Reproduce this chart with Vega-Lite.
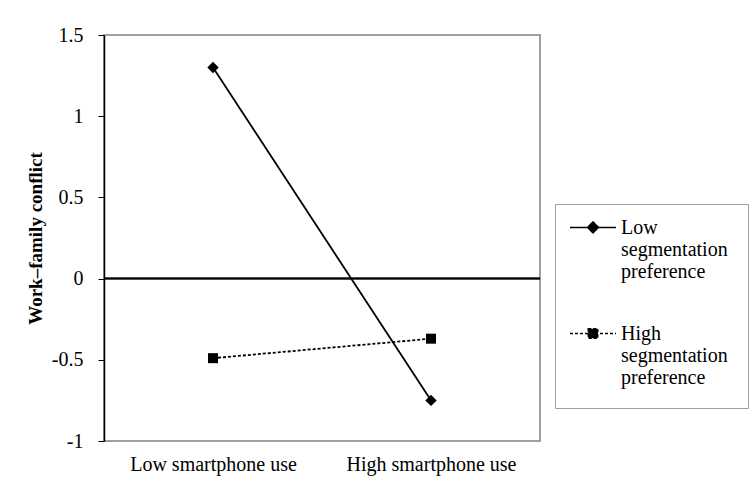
{
  "$schema": "https://vega.github.io/schema/vega-lite/v6.json",
  "width": 436,
  "height": 406,
  "autosize": {"type": "none"},
  "padding": {"left": 104, "top": 35, "right": 216, "bottom": 57},
  "background": "white",
  "config": {
    "font": "Liberation Serif",
    "view": {"stroke": "#a0a0a0", "strokeWidth": 2},
    "axis": {"labelFont": "Liberation Serif", "titleFont": "Liberation Serif", "labelColor": "black", "titleColor": "black", "grid": false},
    "legend": {"labelFont": "Liberation Serif"}
  },
  "data": {
    "values": [
      {"series": "Low segmentation preference", "use": "Low smartphone use", "conflict": 1.3},
      {"series": "Low segmentation preference", "use": "High smartphone use", "conflict": -0.75},
      {"series": "High segmentation preference", "use": "Low smartphone use", "conflict": -0.49},
      {"series": "High segmentation preference", "use": "High smartphone use", "conflict": -0.37}
    ]
  },
  "encoding": {
    "x": {
      "field": "use", "type": "nominal",
      "sort": ["Low smartphone use", "High smartphone use"],
      "scale": {"type": "point", "padding": 0.5},
      "axis": {"title": null, "domain": false, "ticks": false, "labelAngle": 0, "labelFontSize": 20, "labelPadding": 13}
    },
    "y": {
      "field": "conflict", "type": "quantitative",
      "scale": {"domain": [-1, 1.5], "nice": false, "zero": false},
      "axis": {
        "title": "Work–family conflict", "titleFontSize": 19, "titleFontWeight": "bold", "titlePadding": 6,
        "values": [-1, -0.5, 0, 0.5, 1, 1.5], "labelExpr": "'' + datum.value",
        "labelFontSize": 20, "labelPadding": 15, "tickSize": 6, "tickColor": "black",
        "domainColor": "black", "domainWidth": 1.5
      }
    }
  },
  "layer": [
    {
      "mark": {"type": "rule", "color": "black", "strokeWidth": 1.5},
      "encoding": {"y": {"datum": 0}, "x": null}
    },
    {
      "transform": [{"filter": "false"}],
      "mark": {"type": "point", "filled": false, "fill": "black", "strokeWidth": 1.5, "opacity": 1},
      "encoding": {
        "shape": {
          "field": "series", "type": "nominal",
          "scale": {
            "domain": ["Low segmentation preference", "High segmentation preference"],
            "range": ["M-4.6,-1.32H4.6M0,-2.42L1.1,-1.32L0,-0.22L-1.1,-1.32Z", "M-4.6,-1.32H4.6M-0.95,-2.27H0.95V-0.37H-0.95Z"]
          },
          "legend": {
            "title": null,
            "orient": "none", "legendX": 451, "legendY": 169,
            "padding": 20, "strokeColor": "#a0a0a0", "fillColor": "white",
            "symbolSize": 100, "symbolOffset": 8, "labelOffset": 18, "rowPadding": 42,
            "symbolStrokeWidth": 1.5, "symbolFillColor": "black", "symbolStrokeColor": "black", "symbolOpacity": 1,
            "labelFontSize": 20, "labelColor": "black", "labelBaseline": "alphabetic", "labelLimit": 300,
            "labelExpr": "datum.label == 'Low segmentation preference' ? ['Low', 'segmentation', 'preference'] : ['High', 'segmentation', 'preference']"
          }
        },
        "stroke": {
          "field": "series", "type": "nominal",
          "scale": {"domain": ["Low segmentation preference", "High segmentation preference"], "range": ["black", "black"]},
          "legend": {
            "title": null,
            "orient": "none", "legendX": 451, "legendY": 169,
            "padding": 20, "strokeColor": "#a0a0a0", "fillColor": "white",
            "symbolSize": 100, "symbolOffset": 8, "labelOffset": 18, "rowPadding": 42,
            "symbolStrokeWidth": 1.5, "symbolFillColor": "black", "symbolStrokeColor": "black", "symbolOpacity": 1,
            "labelFontSize": 20, "labelColor": "black", "labelBaseline": "alphabetic", "labelLimit": 300,
            "labelExpr": "datum.label == 'Low segmentation preference' ? ['Low', 'segmentation', 'preference'] : ['High', 'segmentation', 'preference']"
          }
        }
      }
    },
    {
      "mark": {"type": "line", "color": "black", "strokeWidth": 1.8},
      "encoding": {
        "strokeDash": {
          "field": "series", "type": "nominal",
          "scale": {"domain": ["Low segmentation preference", "High segmentation preference"], "range": [[1, 0], [3, 2]]},
          "legend": {
            "title": null,
            "orient": "none", "legendX": 451, "legendY": 169,
            "padding": 20, "strokeColor": "#a0a0a0", "fillColor": "white",
            "symbolSize": 100, "symbolOffset": 8, "labelOffset": 18, "rowPadding": 42,
            "symbolStrokeWidth": 1.5, "symbolFillColor": "black", "symbolStrokeColor": "black", "symbolOpacity": 1,
            "labelFontSize": 20, "labelColor": "black", "labelBaseline": "alphabetic", "labelLimit": 300,
            "labelExpr": "datum.label == 'Low segmentation preference' ? ['Low', 'segmentation', 'preference'] : ['High', 'segmentation', 'preference']"
          }
        }
      }
    },
    {
      "transform": [{"filter": "datum.series == 'Low segmentation preference'"}],
      "mark": {"type": "point", "shape": "diamond", "filled": true, "color": "black", "opacity": 1, "size": 130}
    },
    {
      "transform": [{"filter": "datum.series == 'High segmentation preference'"}],
      "mark": {"type": "point", "shape": "square", "filled": true, "color": "black", "opacity": 1, "size": 100}
    }
  ]
}
